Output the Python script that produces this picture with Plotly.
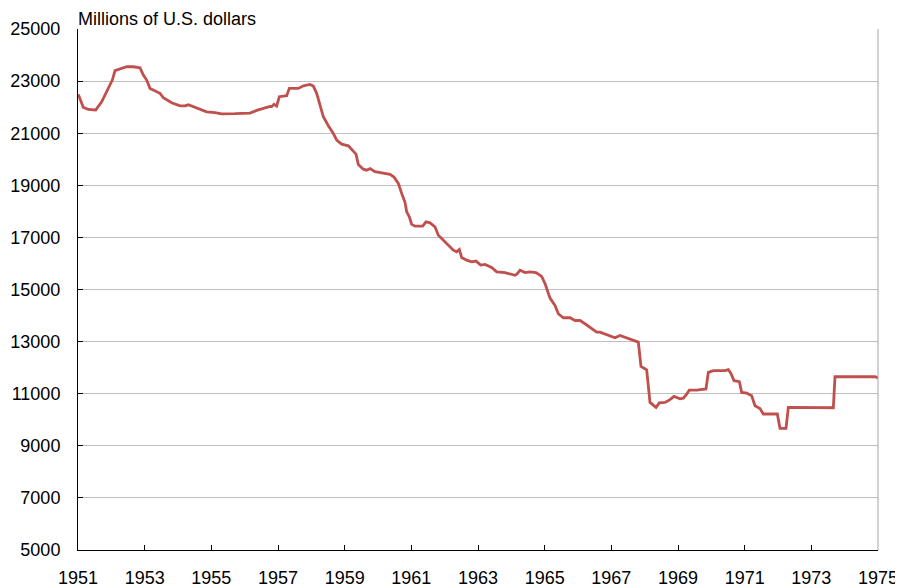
import plotly.graph_objects as go

# Decimal year of each reading
years = [
    1951.01, 1951.16, 1951.31, 1951.53, 1951.71, 1951.91, 1952.03, 1952.11, 1952.26, 1952.46,
    1952.66, 1952.86, 1952.96, 1953.06, 1953.16, 1953.31, 1953.46, 1953.56, 1953.81, 1954.06,
    1954.21, 1954.31, 1954.46, 1954.66, 1954.86, 1955.11, 1955.31, 1955.71, 1956.16, 1956.36,
    1956.61, 1956.76, 1956.81, 1956.88, 1956.96, 1957.04, 1957.26, 1957.34, 1957.61, 1957.76,
    1957.96, 1958.06, 1958.16, 1958.26, 1958.36, 1958.51, 1958.66, 1958.76, 1958.91, 1959.11,
    1959.21, 1959.34, 1959.41, 1959.56, 1959.66, 1959.76, 1959.91, 1960.16, 1960.36, 1960.48,
    1960.61, 1960.71, 1960.81, 1960.86, 1960.94, 1961.01, 1961.11, 1961.34, 1961.44, 1961.56,
    1961.71, 1961.81, 1961.96, 1962.11, 1962.26, 1962.36, 1962.44, 1962.51, 1962.66, 1962.81,
    1962.94, 1963.08, 1963.21, 1963.41, 1963.56, 1963.81, 1963.96, 1964.11, 1964.18, 1964.26,
    1964.41, 1964.56, 1964.74, 1964.91, 1965.01, 1965.16, 1965.31, 1965.41, 1965.56, 1965.76,
    1965.91, 1966.06, 1966.21, 1966.41, 1966.56, 1966.66, 1966.86, 1967.11, 1967.26, 1967.46,
    1967.66, 1967.81, 1967.89, 1968.06, 1968.16, 1968.26, 1968.34, 1968.44, 1968.61, 1968.76,
    1968.88, 1969.06, 1969.16, 1969.26, 1969.34, 1969.56, 1969.76, 1969.84, 1969.91, 1970.06,
    1970.41, 1970.51, 1970.58, 1970.68, 1970.84, 1970.91, 1971.06, 1971.21, 1971.31, 1971.46,
    1971.56, 1971.98, 1972.06, 1972.24, 1972.31, 1973.66, 1973.71, 1974.92, 1975.00,
]

# Millions of U.S. dollars
gold_stock = [
    22490, 21990, 21910, 21890, 22205, 22720, 23040, 23400, 23470, 23550,
    23550, 23510, 23230, 23040, 22720, 22640, 22530, 22360, 22170, 22050,
    22050, 22090, 22010, 21910, 21820, 21790, 21745, 21750, 21770, 21875,
    21990, 22030, 22020, 22110, 22040, 22400, 22440, 22720, 22720, 22820,
    22870, 22810, 22530, 22080, 21630, 21285, 20990, 20735, 20580, 20515,
    20390, 20195, 19800, 19620, 19580, 19645, 19520, 19470, 19420, 19315,
    19075, 18690, 18345, 17985, 17790, 17500, 17430, 17430, 17595, 17560,
    17405, 17085, 16895, 16700, 16510, 16445, 16535, 16230, 16125, 16060,
    16090, 15935, 15960, 15845, 15675, 15650, 15585, 15545, 15610, 15740,
    15650, 15675, 15650, 15505, 15225, 14670, 14390, 14070, 13915, 13915,
    13810, 13810, 13685, 13520, 13365, 13365, 13260, 13145, 13235, 13145,
    13070, 12980, 12045, 11915, 10665, 10540, 10475, 10645, 10665, 10770,
    10895, 10805, 10830, 10985, 11140, 11140, 11180, 11180, 11820, 11885,
    11885, 11925, 11795, 11500, 11460, 11050, 11025, 10920, 10540, 10435,
    10220, 10220, 9670, 9670, 10475, 10460, 11650, 11650, 11600,
]

x_ticks = list(range(1951, 1976, 2))
y_ticks = list(range(5000, 25001, 2000))
title_text = "Millions of U.S. dollars"

FONT = "Liberation Sans, Arial, sans-serif"
FSIZE = 18

fig = go.Figure()
fig.add_trace(go.Scatter(
    x=years, y=gold_stock, mode="lines",
    line=dict(color="#C0504D", width=2.8),
    hoverinfo="x+y", showlegend=False, cliponaxis=False,
))

fig.update_layout(
    width=895, height=580,
    margin=dict(l=70, r=25, t=21, b=38, autoexpand=False),
    paper_bgcolor="white", plot_bgcolor="white",
    font=dict(family=FONT, size=FSIZE, color="black"),
    annotations=[dict(
        text=title_text, xref="paper", yref="paper", x=0, y=1,
        xanchor="left", yanchor="bottom", showarrow=False,
        font=dict(family=FONT, size=FSIZE, color="black"), yshift=-2, xshift=-2,
    )],
    shapes=[dict(type="line", xref="paper", yref="paper", x0=1, x1=1, y0=0, y1=1,
                 line=dict(color="#A6A6A6", width=1))],
)

fig.update_xaxes(
    range=[1951, 1975], tickvals=x_ticks, ticktext=[str(t) for t in x_ticks],
    showgrid=False, zeroline=False, automargin=False,
    showline=True, linecolor="black", linewidth=1,
    ticks="inside", ticklen=5, tickcolor="black", tickwidth=1,
    ticklabelstandoff=11,
)
fig.update_yaxes(
    range=[5000, 25000], tickvals=y_ticks, ticktext=[str(t) for t in y_ticks],
    showgrid=True, gridcolor="#BFBFBF", gridwidth=1, zeroline=False, automargin=False,
    showline=True, linecolor="black", linewidth=1,
    ticks="inside", ticklen=5, tickcolor="black", tickwidth=1,
    ticklabelstandoff=13,
)

fig.write_html("out.html")
